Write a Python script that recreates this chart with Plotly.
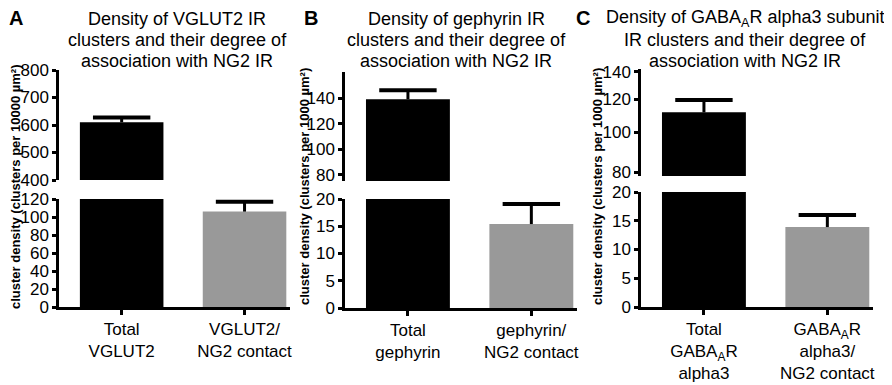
import plotly.graph_objects as go

# ---------------- data ----------------
cats_A = ["Total<br>VGLUT2", "VGLUT2/<br>NG2 contact"]
vals_A = [610, 106]
err_A = [17, 11]

cats_B = ["Total<br>gephyrin", "gephyrin/<br>NG2 contact"]
vals_B = [139, 15.4]
err_B = [7, 3.7]

cats_C = ["Total<br>GABA<sub>A</sub>R<br>alpha3", "GABA<sub>A</sub>R<br>alpha3/<br>NG2 contact"]
vals_C = [111.7, 13.9]
err_C = [8, 2.1]

titles = [
    ["Density of VGLUT2 IR", "clusters and their degree of", "association with NG2 IR"],
    ["Density of gephyrin IR", "clusters and their degree of", "association with NG2 IR"],
    ["Density of GABA<sub>A</sub>R alpha3 subunit", "IR clusters and their degree of", "association with NG2 IR"],
]
ytitles = [
    "cluster density (clusters per 10000 µm²)",
    "cluster density (clusters per 1000 µm²)",
    "cluster density (clusters per 1000 µm²)",
]
letters = ["A", "B", "C"]

top_ticks_A = [400, 500, 600, 700, 800]
bot_ticks_A = [0, 20, 40, 60, 80, 100, 120]
top_ticks_B = [80, 100, 120, 140]
bot_ticks_B = [0, 5, 10, 15, 20]
top_ticks_C = [80, 100, 120, 140]
bot_ticks_C = [0, 5, 10, 15, 20]

# ---------------- layout geometry ----------------
# page body has an 8px margin, so the figure is offset by 8px
OFF = 8
W, H = 892 - OFF, 385 - OFF
FONT = "Liberation Sans, Arial, sans-serif"
colors = ["#000000", "#999999"]


def fx(px):
    return (px - OFF) / W


def fy(py):
    return 1 - (py - OFF) / H


panels = [
    dict(cats=cats_A, vals=vals_A, err=err_A, xdom=(59, 290),
         top=(70, 180), bot=(199, 307), top_range=[400, 800], bot_range=[0, 120],
         top_ticks=top_ticks_A, bot_ticks=bot_ticks_A, top_type="linear",
         title_x=177, ytitle_x=15, letter_x=16),
    dict(cats=cats_B, vals=vals_B, err=err_B, xdom=(345, 577),
         top=(72, 181), bot=(199, 308), top_range=[75.3, 160.3], bot_range=[0, 20],
         top_ticks=top_ticks_B, bot_ticks=bot_ticks_B, top_type="linear",
         title_x=456, ytitle_x=304, letter_x=311),
    dict(cats=cats_C, vals=vals_C, err=err_C, xdom=(641, 873),
         top=(69, 176), bot=(192, 307), top_range=[1.8934, 2.1534], bot_range=[0, 20],
         top_ticks=top_ticks_C, bot_ticks=bot_ticks_C, top_type="log",
         title_x=745, ytitle_x=597, letter_x=583),
]
title_line_y = [18.5, 39.5, 61]

fig = go.Figure()
layout = dict(
    width=W, height=H, margin=dict(l=0, r=0, t=0, b=0, autoexpand=False),
    paper_bgcolor="white", plot_bgcolor="white", showlegend=False,
    font=dict(family=FONT, color="black"),
)
annotations = []

axis_common = dict(showline=True, linecolor="black", linewidth=2.5,
                   ticks="outside", ticklen=4, tickwidth=2.5, tickcolor="black",
                   showgrid=False, zeroline=False, automargin=False,
                   tickfont=dict(size=17, family=FONT, color="black"))

for i, p in enumerate(panels):
    xn = 1 + i
    yb = 2 * i + 1
    yt = 2 * i + 2
    xname = "x" if xn == 1 else f"x{xn}"
    ybname = "y" if yb == 1 else f"y{yb}"
    ytname = f"y{yt}"
    xs = [0, 1]
    caps = [v + e for v, e in zip(p["vals"], p["err"])]
    for yname in (ybname, ytname):
        fig.add_trace(go.Bar(
            x=xs, y=p["vals"], width=0.68, xaxis=xname, yaxis=yname,
            marker=dict(color=colors, line=dict(width=0)),
            error_y=dict(type="data", symmetric=False, array=p["err"],
                         arrayminus=[0, 0], color="black", thickness=3, width=0),
        ))
        fig.add_trace(go.Scatter(
            x=xs, y=caps, xaxis=xname, yaxis=yname, mode="markers",
            cliponaxis=True, hoverinfo="skip",
            marker=dict(symbol="line-ew", size=41, color="black",
                        line=dict(width=4, color="black")),
        ))
    layout["xaxis" if xn == 1 else f"xaxis{xn}"] = dict(
        axis_common, domain=[fx(p["xdom"][0]), fx(p["xdom"][1])],
        anchor=ybname, range=[-0.51, 1.37], tickvals=xs, ticktext=p["cats"],
        ticklen=5, tickfont=dict(size=17, family=FONT, color="black"),
    )
    layout["yaxis" if yb == 1 else f"yaxis{yb}"] = dict(
        axis_common, domain=[fy(p["bot"][1]), fy(p["bot"][0])],
        anchor=xname, range=p["bot_range"], tickvals=p["bot_ticks"],
    )
    layout[f"yaxis{yt}"] = dict(
        axis_common, domain=[fy(p["top"][1]), fy(p["top"][0])],
        anchor=xname, range=p["top_range"], tickvals=p["top_ticks"],
        type=p["top_type"],
    )
    for line, ly in zip(titles[i], title_line_y):
        annotations.append(dict(
            text=line, x=fx(p["title_x"]), y=fy(ly), xref="paper", yref="paper",
            xanchor="center", yanchor="middle", showarrow=False,
            font=dict(size=18, family=FONT, color="black"),
        ))
    annotations.append(dict(
        text=f"<b>{letters[i]}</b>", x=fx(p["letter_x"]), y=fy(18), xref="paper", yref="paper",
        xanchor="center", yanchor="middle", showarrow=False,
        font=dict(size=20, family=FONT, color="black"),
    ))
    annotations.append(dict(
        text=f"<b>{ytitles[i]}</b>", x=fx(p["ytitle_x"]), y=fy(187), xref="paper", yref="paper",
        xanchor="center", yanchor="middle", showarrow=False, textangle=-90,
        font=dict(size=13, family=FONT, color="black"),
    ))

layout["annotations"] = annotations
fig.update_layout(**layout)
fig.write_html("out.html")
